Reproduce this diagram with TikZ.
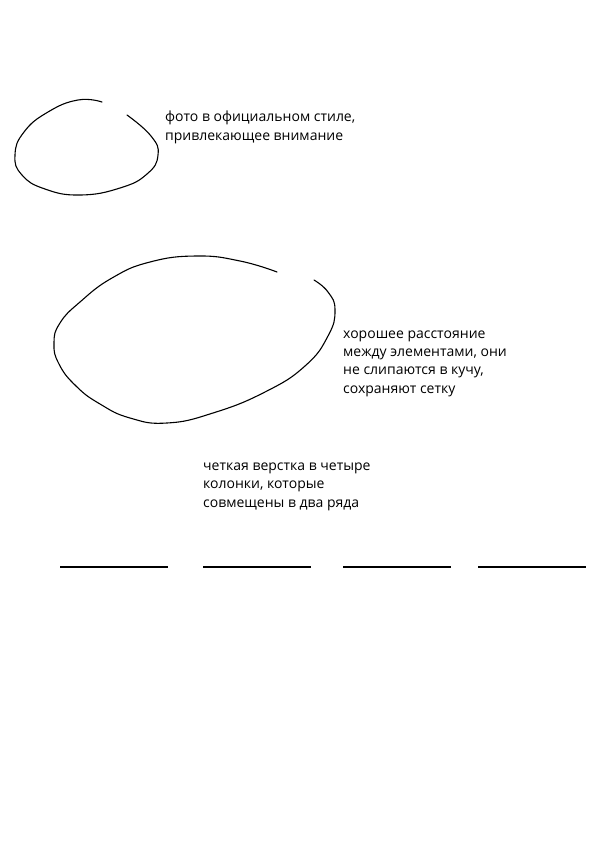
\documentclass[tikz,border=0pt]{standalone}
\usepackage{fontspec}
\setmainfont{Open Sans}
\begin{document}
\begin{tikzpicture}[
    x=1pt, y=-1pt,
    note/.style={
      anchor=base west,
      align=left,
      inner sep=0pt,
      font=\fontsize{14}{18.2}\selectfont
    },
    loop/.style={
      draw=black,
      line width=1.1pt,
      line cap=round
    },
    rule/.style={
      draw=black,
      line width=1.4pt
    },
]

\useasboundingbox (0,0) rectangle (601,847);

% small photo circle
\draw[loop] plot[smooth, tension=0.8] coordinates {(102,102) (78,100) (48,112) (24,132) (15,155) (22,175) (45,189) (80,195) (120,188) (147,174) (158,155) (151,136) (127,115)};
\node[note] (photo) at (165,140) {фото в официальном стиле,\\привлекающее внимание};

% big spacing circle
\draw[loop] plot[smooth, tension=0.8] coordinates {(277,272) (240,261) (197,256) (150,262) (112,278) (80,302) (60,323) (54,343) (59,364) (76,386) (100,404) (130,418) (167,423) (213,413) (265,392) (305,366) (328,336) (335,310) (328,292) (314,280)};
\node[note] (space) at (343,393) {хорошее расстояние\\между элементами, они\\не слипаются в кучу,\\сохраняют сетку};

\node[note] (grid) at (203,507) {четкая верстка в четыре\\колонки, которые\\совмещены в два ряда};

% four columns
\foreach \a/\b in {60/168, 203/311, 343/451, 478/586}
  \draw[rule] (\a,567) -- (\b,567);

\end{tikzpicture}
\end{document}
